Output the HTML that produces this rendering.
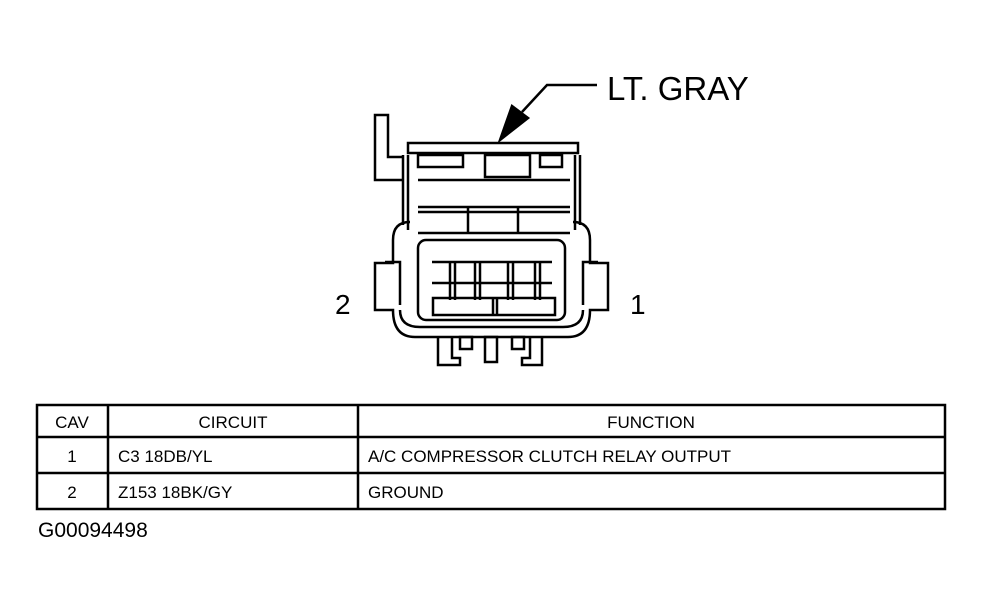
<!DOCTYPE html>
<html><head><style>body{margin:0;background:#fff}svg{display:block}</style></head><body>
<svg width="982" height="613" viewBox="0 0 982 613" xmlns="http://www.w3.org/2000/svg" font-family="Liberation Sans, sans-serif">
<g fill="none" stroke="#000" stroke-width="2.5">
<!-- leader -->
<polyline points="597,85 547,85 522,112"/>
<polygon points="500,140 512,106 528,118" fill="#000"/>
<!-- left tab -->
<polyline points="403,157 388,157 388,115 375,115 375,180 403,180"/>
<!-- top bar -->
<rect x="408" y="143" width="170" height="10"/>
<!-- body -->
<path d="M403,155 L403,225 M580,155 L580,225"/>
<path d="M408,155 L408,230 M575,155 L575,230"/>
<rect x="418" y="155" width="45" height="12"/>
<rect x="485" y="155" width="45" height="22"/>
<rect x="540" y="155" width="22" height="12"/>
<line x1="418" y1="180" x2="570" y2="180"/>
<line x1="418" y1="207" x2="570" y2="207"/>
<line x1="418" y1="212" x2="570" y2="212"/>
<line x1="468" y1="207" x2="468" y2="233"/>
<line x1="518" y1="207" x2="518" y2="233"/>
<line x1="418" y1="233" x2="570" y2="233"/>
<!-- outer shell -->
<path d="M410,222 Q393,222 393,240 L393,263 L375,263 L375,310 L393,310 Q393,337 415,337 L568,337 Q590,337 590,310 L608,310 L608,263 L590,263 L590,240 Q590,222 573,222"/>
<path d="M400,305 L400,262 L385,262" />
<path d="M583,305 L583,262 L598,262"/>
<path d="M420,327 Q400,327 400,310 M563,327 Q583,327 583,310"/>
<line x1="420" y1="327" x2="563" y2="327"/>
<!-- inner opening -->
<rect x="418" y="240" width="147" height="80" rx="8"/>
<line x1="432" y1="262" x2="552" y2="262"/>
<line x1="432" y1="283" x2="552" y2="283"/>
<line x1="450" y1="262" x2="450" y2="300"/><line x1="455" y1="262" x2="455" y2="300"/>
<line x1="475" y1="262" x2="475" y2="300"/><line x1="480" y1="262" x2="480" y2="300"/>
<line x1="508" y1="262" x2="508" y2="300"/><line x1="513" y1="262" x2="513" y2="300"/>
<line x1="535" y1="262" x2="535" y2="300"/><line x1="540" y1="262" x2="540" y2="300"/>
<rect x="433" y="298" width="122" height="17"/>
<line x1="493" y1="298" x2="493" y2="315"/><line x1="497" y1="298" x2="497" y2="315"/>
<!-- pegs -->
<polyline points="438,337 438,365 460,365 460,358 452,358 452,337"/>
<polyline points="542,337 542,365 522,365 522,358 530,358 530,337"/>
<rect x="485" y="337" width="12" height="25"/>
<rect x="460" y="337" width="12" height="12"/>
<rect x="512" y="337" width="12" height="12"/>
<!-- table -->
<rect x="37" y="405" width="908" height="104"/>
<line x1="37" y1="437" x2="945" y2="437"/>
<line x1="37" y1="473" x2="945" y2="473"/>
<line x1="108" y1="405" x2="108" y2="509"/>
<line x1="358" y1="405" x2="358" y2="509"/>
</g>
<g fill="#000">
<text x="607" y="100" font-size="33">LT. GRAY</text>
<text x="335" y="314" font-size="28">2</text>
<text x="630" y="314" font-size="28">1</text>
<g font-size="17">
<text x="72" y="428" text-anchor="middle">CAV</text>
<text x="233" y="428" text-anchor="middle">CIRCUIT</text>
<text x="651" y="428" text-anchor="middle">FUNCTION</text>
<text x="72" y="462" text-anchor="middle">1</text>
<text x="118" y="462">C3 18DB/YL</text>
<text x="368" y="462">A/C COMPRESSOR CLUTCH RELAY OUTPUT</text>
<text x="72" y="498" text-anchor="middle">2</text>
<text x="118" y="498">Z153 18BK/GY</text>
<text x="368" y="498">GROUND</text>
</g>
<text x="38" y="537" font-size="21">G00094498</text>
</g>
</svg>
</body></html>
